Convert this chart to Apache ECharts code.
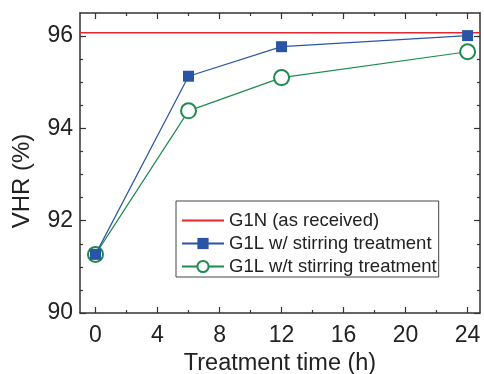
<!DOCTYPE html>
<html>
<head>
<meta charset="utf-8">
<script src="https://cdn.jsdelivr.net/npm/echarts@6/dist/echarts.min.js"></script>
<style>
  html, body { margin: 0; padding: 0; background: #fff; }
  #chart { width: 484px; height: 374px; }
</style>
</head>
<body>
<div id="chart"></div>
<script>
  // 数据
  const hours = [0, 6, 12, 24]
  const g1nLevel = 96.07 // G1N (as received)
  const stirring = [91.27, 95.13, 95.77, 96.01]
  const noStirring = [91.27, 94.38, 95.1, 95.66]
  const xMajor = [0, 4, 8, 12, 16, 20, 24]
  const xMinor = [2, 6, 10, 14, 18, 22]
  const yMajor = [90, 92, 94, 96]
  const yMinor = [90.5, 91, 91.5, 92.5, 93, 93.5, 94.5, 95, 95.5, 96]
  const X_MIN = -1, X_MAX = 24.8
  const Y_MIN = 90, Y_MAX = 96.5

  const FONT = 'Liberation Sans, Arial, Helvetica, sans-serif'
  const AXIS_COLOR = '#333'
  const RED = '#e8262d'
  const BLUE = '#2a55a6'
  const GREEN = '#1e8b4f'

  const grid = { left: 80, top: 13, right: 4, bottom: 61, outerBoundsMode: 'none' }

  let xAxis = (gridIndex, position, ticks, len, withLabel) => ({
    type: 'value', gridIndex, position, min: X_MIN, max: X_MAX,
    splitLine: { show: false },
    axisLine: { show: gridIndex === 0, onZero: false, lineStyle: { color: AXIS_COLOR, width: 1.5 } },
    axisTick: { show: true, inside: true, length: len, customValues: ticks, lineStyle: { color: AXIS_COLOR, width: 1.2 } },
    axisLabel: withLabel
      ? { show: true, customValues: xMajor, margin: 11, fontSize: 23, color: '#222', fontFamily: FONT }
      : { show: false },
    name: withLabel ? 'Treatment time (h)' : '',
    nameLocation: 'middle', nameGap: 37,
    nameTextStyle: { fontSize: 23.5, color: '#222', fontFamily: FONT }
  })

  let yAxis = (gridIndex, position, ticks, len, withLabel) => ({
    type: 'value', gridIndex, position, min: Y_MIN, max: Y_MAX,
    splitLine: { show: false },
    axisLine: { show: gridIndex === 0, onZero: false, lineStyle: { color: AXIS_COLOR, width: 1.5 } },
    axisTick: { show: true, inside: true, length: len, customValues: ticks, lineStyle: { color: AXIS_COLOR, width: 1.2 } },
    axisLabel: withLabel
      ? { show: true, customValues: yMajor, margin: 7, fontSize: 23, color: '#222', fontFamily: FONT }
      : { show: false },
    name: withLabel ? 'VHR (%)' : '',
    nameLocation: 'middle', nameGap: 46,
    nameTextStyle: { fontSize: 24, color: '#222', fontFamily: FONT, padding: [0, 36, 0, 0] }
  })

  const chart = echarts.init(document.getElementById('chart'), null, { renderer: 'canvas' })

  const option = {
    animation: false,
    backgroundColor: '#fff',
    grid: [grid, grid],
    xAxis: [
      xAxis(0, 'bottom', xMajor, 6, true),
      xAxis(0, 'top', xMajor, 6, false),
      xAxis(1, 'bottom', xMinor, 3, false),
      xAxis(1, 'top', xMinor, 3, false)
    ],
    yAxis: [
      yAxis(0, 'left', yMajor, 6, true),
      yAxis(0, 'right', yMajor, 6, false),
      yAxis(1, 'left', yMinor, 3, false),
      yAxis(1, 'right', yMinor, 3, false)
    ],
    legend: {
      left: 176, top: 201,
      orient: 'vertical',
      data: [
        { name: 'G1N (as received)', itemStyle: { opacity: 0 } },
        'G1L w/ stirring treatment',
        'G1L w/t stirring treatment'
      ],
      itemWidth: 42, itemHeight: 14, itemGap: 4,
      padding: [10, 2, 1, 5],
      borderColor: '#444', borderWidth: 1, borderRadius: 0,
      textStyle: { fontSize: 18.5, color: '#222', fontFamily: FONT }
    },
    series: [
      {
        name: 'G1N (as received)',
        type: 'line',
        xAxisIndex: 0, yAxisIndex: 0,
        data: [[X_MIN, g1nLevel], [X_MAX, g1nLevel]],
        symbol: 'none',
        lineStyle: { color: RED, width: 1.5 },
        itemStyle: { color: RED }
      },
      {
        name: 'G1L w/t stirring treatment',
        type: 'line',
        xAxisIndex: 0, yAxisIndex: 0,
        data: hours.map((h, i) => [h, noStirring[i]]),
        symbol: 'emptyCircle', symbolSize: 15,
        lineStyle: { color: GREEN, width: 1.2 },
        itemStyle: { color: GREEN, borderColor: GREEN, borderWidth: 1.5 },
        z: 2
      },
      {
        name: 'G1L w/ stirring treatment',
        type: 'line',
        xAxisIndex: 0, yAxisIndex: 0,
        data: hours.map((h, i) => [h, stirring[i]]),
        symbol: 'rect', symbolSize: 11,
        lineStyle: { color: BLUE, width: 1.2 },
        itemStyle: { color: BLUE },
        z: 3
      }
    ]
  }

  chart.setOption(option)
</script>
</body>
</html>
